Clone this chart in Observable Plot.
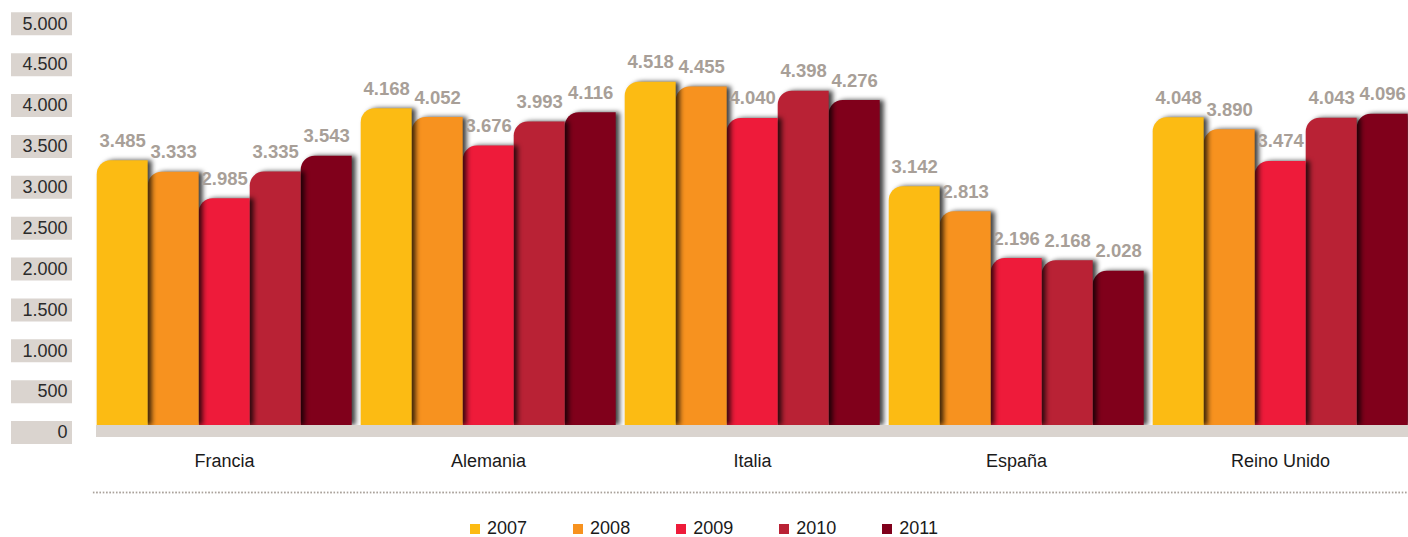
<!DOCTYPE html>
<html>
<head>
<meta charset="utf-8">
<script src="https://cdn.jsdelivr.net/npm/d3@7"></script>
<script src="https://cdn.jsdelivr.net/npm/@observablehq/plot@0.6"></script>
<style>
  html, body { margin: 0; padding: 0; background: #fff; }
  #wrap { position: relative; width: 1408px; height: 537px; overflow: hidden; font-family: "Liberation Sans", Arial, sans-serif; }
  #main { position: absolute; left: 0; top: 0; }
  #axis { position: absolute; left: 0; top: 0; }
  #dots { position: absolute; left: 92px; top: 491px; width: 1316px; height: 3px;
          background-image: radial-gradient(circle, #aaa29b 0.9px, rgba(255,255,255,0) 1.2px);
          background-size: 3.3px 3px; background-repeat: repeat-x; }
  #legend { position: absolute; left: 0; top: 520px; width: 1408px; height: 17px;
            display: flex; justify-content: center; align-items: center; gap: 46px;
            font-size: 18px; line-height: 17px; color: #1a1a1a; }
  #legend .item { display: flex; align-items: center; height: 17px; }
  #legend .sw { width: 10px; height: 10px; margin-right: 6px; }
  #legend .lb { line-height: 17px; padding-left: 1px; }
</style>
</head>
<body>
<div id="wrap">
  <div id="main"></div>
  <div id="axis"></div>
  <div id="dots"></div>
  <div id="legend"></div>
</div>
<script>
// ---- data ----
const countries = ["Francia", "Alemania", "Italia", "España", "Reino Unido"];
const years = ["2007", "2008", "2009", "2010", "2011"];
const v2007 = [3485, 4168, 4518, 3142, 4048];
const v2008 = [3333, 4052, 4455, 2813, 3890];
const v2009 = [2985, 3676, 4040, 2196, 3474];
const v2010 = [3335, 3993, 4398, 2168, 4043];
const v2011 = [3543, 4116, 4276, 2028, 4096];
const yTicks = [0, 500, 1000, 1500, 2000, 2500, 3000, 3500, 4000, 4500, 5000];
const colors = ["#fcbb13", "#f7921f", "#ee1b3a", "#b92235", "#80001b"];

const series = [v2007, v2008, v2009, v2010, v2011];
const rows = [];
// right-most bars first so that each bar's shadow falls on its right neighbour
for (let j = years.length - 1; j >= 0; j--) {
  countries.forEach((c, i) => rows.push({country: c, year: years[j], value: series[j][i]}));
}

const locale = d3.formatLocale({decimal: ",", thousands: ".", grouping: [3], currency: ["", ""]});
const fmt = locale.format(",");
const FONT = "'Liberation Sans', Arial, sans-serif";

// ---- main chart ----
const main = Plot.plot({
  width: 1408,
  height: 476,
  marginLeft: 94.3,
  marginRight: -2.4,
  marginTop: 45,
  marginBottom: 51,
  style: {fontFamily: FONT, fontSize: "18px", color: "#1a1a1a", background: "transparent", overflow: "hidden"},
  fx: {domain: countries, paddingInner: 0.0287, paddingOuter: 0, label: null, axis: "bottom", tickSize: 0, tickPadding: 29},
  x: {domain: years, padding: 0, axis: null},
  y: {domain: [0, 5000], axis: null},
  color: {domain: years, range: colors},
  marks: [
    Plot.barY(rows, {fx: "country", x: "year", y: "value", fill: "year", className: "bars"}),
    Plot.rect(countries, {fx: d => d, y1: 0, y2: 0, insetBottom: -11.5, insetRight: -10, fill: "#dad4cf", shapeRendering: "crispEdges"}),
    Plot.text(rows, {fx: "country", x: "year", y: "value", text: d => fmt(d.value), lineAnchor: "bottom",
      dy: -14, fill: "#a89f98", fontWeight: "bold", fontSize: 18.5})
  ]
});
document.getElementById("main").appendChild(main);

// round top-left corner of bars & add drop shadow
main.querySelectorAll("g.bars rect").forEach(rect => {
  const x = +rect.getAttribute("x"), y = +rect.getAttribute("y");
  const w = +rect.getAttribute("width"), h = +rect.getAttribute("height");
  const r = Math.min(14, w, h);
  const p = document.createElementNS("http://www.w3.org/2000/svg", "path");
  p.setAttribute("d", `M${x},${y + h}V${y + r}A${r},${r} 0 0 1 ${x + r},${y}H${x + w}V${y + h}Z`);
  for (const a of rect.attributes) if (!["x", "y", "width", "height"].includes(a.name)) p.setAttribute(a.name, a.value);
  p.style.filter = "drop-shadow(4px 0px 2.5px rgba(0,0,0,0.75))";
  rect.replaceWith(p);
});

// ---- y-axis labels in grey boxes ----
const axis = Plot.plot({
  width: 94,
  height: 445,
  marginLeft: 11,
  marginRight: 22,
  marginTop: 23.3,
  marginBottom: 13,
  style: {fontFamily: FONT, fontSize: "18px", background: "transparent"},
  y: {domain: [0, 5000], axis: null},
  marks: [
    Plot.tickY(yTicks, {y: d => d, stroke: "#dad4cf", strokeWidth: 23}),
    Plot.text(yTicks, {y: d => d, text: d => fmt(d), frameAnchor: "right", textAnchor: "end", dx: -5, fill: "#2b2b2b"})
  ]
});
document.getElementById("axis").appendChild(axis);

// ---- legend ----
const legend = document.getElementById("legend");
years.forEach((yr, i) => {
  const item = document.createElement("div");
  item.className = "item";
  const sw = document.createElement("span");
  sw.className = "sw";
  sw.style.background = colors[i];
  const lb = document.createElement("span");
  lb.className = "lb";
  lb.textContent = yr;
  item.appendChild(sw);
  item.appendChild(lb);
  legend.appendChild(item);
});
</script>
</body>
</html>
